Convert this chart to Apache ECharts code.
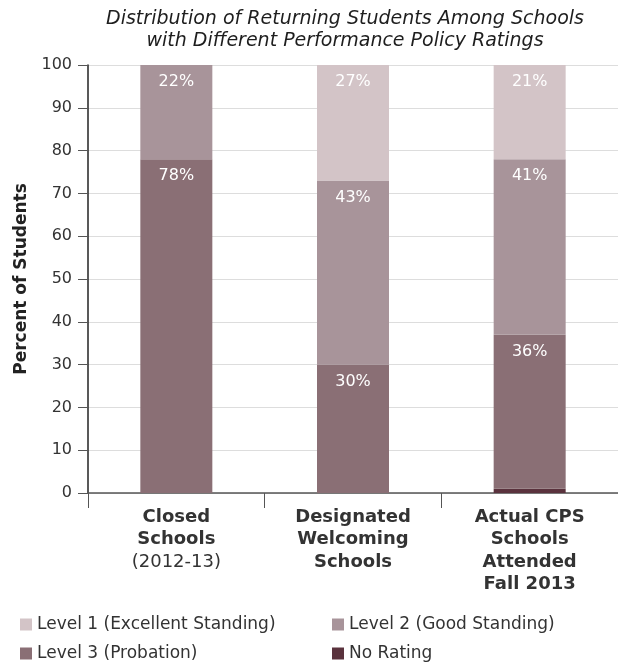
<!DOCTYPE html>
<html>
<head>
<meta charset="utf-8">
<script src="https://cdn.jsdelivr.net/npm/echarts@6/dist/echarts.min.js"></script>
<style>
  html, body { margin: 0; padding: 0; background: #fff; }
  #chart { width: 618px; height: 662px; }
</style>
</head>
<body>
<div id="chart"></div>
<script>
// categories and values
const schools = ["Closed|Schools|(2012-13)", "Designated|Welcoming|Schools", "Actual CPS|Schools|Attended|Fall 2013"];
const noRating = [0, 0, 1];
const level3 = [78, 30, 36];
const level2 = [22, 43, 41];
const level1 = [0, 27, 22];
const level3Labels = ["78%", "30%", "36%"];
const level2Labels = ["22%", "43%", "41%"];
const level1Labels = ["", "27%", "21%"];
const yTicks = [0, 10, 20, 30, 40, 50, 60, 70, 80, 90, 100];

const FONT = "DejaVu Sans";
const chart = echarts.init(document.getElementById("chart"));

function labelFrom(arr) {
  return {
    show: true,
    position: "insideTop",
    distance: 9,
    color: "#fff",
    fontSize: 16,
    fontFamily: FONT,
    formatter: p => arr[p.dataIndex]
  };
}

const legendBase = {
  orient: "vertical",
  top: 611,
  height: 60,
  itemWidth: 12,
  itemHeight: 12,
  itemGap: 12,
  icon: "rect",
  textStyle: { fontSize: 17, color: "#333", fontFamily: FONT }
};

const option = {
  animation: false,
  textStyle: { fontFamily: FONT },
  title: {
    text: "Distribution of Returning Students Among Schools\nwith Different Performance Policy Ratings",
    left: 340,
    top: 3,
    textAlign: "center",
    textStyle: {
      fontSize: 19,
      fontStyle: "italic",
      fontWeight: "normal",
      color: "#1e1e1e",
      lineHeight: 22,
      fontFamily: FONT
    }
  },
  legend: [
    Object.assign({}, legendBase, { left: 15, data: ["Level 1 (Excellent Standing)", "Level 3 (Probation)"] }),
    Object.assign({}, legendBase, { left: 327, data: ["Level 2 (Good Standing)", "No Rating"] })
  ],
  grid: { left: 88, right: 0, top: 65, bottom: 169 },
  xAxis: {
    type: "category",
    data: schools,
    axisLine: { lineStyle: { color: "#555", width: 1.5 } },
    axisTick: { show: true, length: 15, lineStyle: { color: "#555" } },
    axisLabel: {
      margin: 13,
      interval: 0,
      formatter: v => v.split("|").map(s => s.startsWith("(") ? "{r|" + s + "}" : "{b|" + s + "}").join("\n"),
      rich: {
        b: { fontSize: 18, fontWeight: "bold", color: "#333", lineHeight: 22.5, fontFamily: FONT },
        r: { fontSize: 18, fontWeight: "normal", color: "#333", lineHeight: 22.5, fontFamily: FONT }
      }
    }
  },
  yAxis: {
    type: "value",
    min: 0,
    max: 100,
    interval: 10,
    name: "Percent of Students",
    nameLocation: "middle",
    nameGap: 56,
    nameTextStyle: { fontSize: 17, fontWeight: "bold", color: "#222", fontFamily: FONT },
    axisLine: { show: true, lineStyle: { color: "#222", width: 1.5 } },
    axisTick: { show: true, length: 10, lineStyle: { color: "#555" } },
    axisLabel: {
      margin: 16,
      fontSize: 16,
      color: "#333",
      formatter: v => yTicks.includes(v) ? String(v) : ""
    },
    splitLine: { lineStyle: { color: "#ddd" } }
  },
  series: [
    {
      name: "No Rating", type: "bar", stack: "s", barWidth: 72,
      data: noRating, itemStyle: { color: "#5a323d" }
    },
    {
      name: "Level 3 (Probation)", type: "bar", stack: "s", barWidth: 72,
      data: level3, itemStyle: { color: "#8a6f75" }, label: labelFrom(level3Labels)
    },
    {
      name: "Level 2 (Good Standing)", type: "bar", stack: "s", barWidth: 72,
      data: level2, itemStyle: { color: "#a8949a" }, label: labelFrom(level2Labels)
    },
    {
      name: "Level 1 (Excellent Standing)", type: "bar", stack: "s", barWidth: 72,
      data: level1, itemStyle: { color: "#d3c4c7" }, label: labelFrom(level1Labels)
    }
  ]
};

chart.setOption(option);
</script>
</body>
</html>
